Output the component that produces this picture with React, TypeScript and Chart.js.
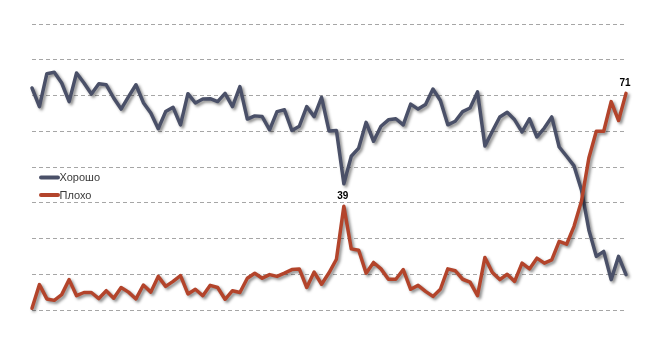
import React, { useEffect, useRef } from "react";
import { Chart, registerables } from "chart.js";

Chart.register(...registerables);

const seriesNames = ["Хорошо", "Плохо"];

const goodValues = [
  72.1, 66.9, 76.1, 76.5, 73.5, 68.3, 76.3, 73.5, 70.4, 73.3,
  73.0, 69.3, 66.2, 69.7, 73.0, 68.0, 65.1, 60.7, 65.5, 66.7,
  61.8, 70.5, 67.9, 69.0, 69.1, 68.3, 70.6, 66.9, 72.5, 63.4,
  64.3, 64.1, 60.4, 65.5, 66.0, 60.2, 61.4, 66.9, 64.1, 69.5,
  60.1, 60.2, 45.3, 53.0, 55.3, 62.5, 57.2, 61.4, 63.2, 63.5,
  61.8, 67.6, 66.2, 67.5, 71.8, 68.6, 61.8, 62.8, 65.5, 66.5,
  71.0, 55.9, 60.0, 64.0, 65.3, 63.2, 59.8, 63.5, 58.4, 60.9,
  64.0, 55.6, 53.0, 50.3, 43.6, 32.4, 25.0, 26.4, 18.5, 25.0,
  19.9,
];

const badValues = [
  10.5, 17.1, 13.1, 12.7, 14.3, 18.5, 14.0, 14.9, 14.9, 13.2,
  15.4, 13.3, 16.3, 15.0, 13.1, 17.0, 15.0, 19.4, 16.6, 18.0,
  19.6, 14.5, 15.8, 14.0, 16.9, 16.3, 13.0, 15.4, 14.9, 18.9,
  20.3, 18.9, 19.9, 19.4, 20.3, 21.3, 21.5, 16.3, 20.6, 17.2,
  20.4, 24.2, 39.0, 27.1, 26.7, 20.3, 23.3, 21.5, 18.6, 18.6,
  21.3, 15.8, 16.9, 15.2, 13.8, 15.8, 21.5, 21.0, 18.6, 17.8,
  14.0, 24.7, 20.5, 18.5, 20.0, 18.0, 23.1, 21.5, 24.5, 23.1,
  24.0, 29.2, 28.4, 33.4, 40.4, 52.5, 60.0, 60.0, 68.3, 63.0,
  70.6,
];

// indices of the "Плохо" points that carry a value label
const labelledBadIndices = [42, 80];

const categories = goodValues.map((_, i) => String(i + 1));

const GOOD_COLOR = "#4a5068";
const BAD_COLOR = "#b3442b";

export default function App() {
  const ref = useRef<HTMLCanvasElement | null>(null);

  useEffect(() => {
    if (!ref.current) return;

    const shadowPlugin = {
      id: "lineShadow",
      beforeDatasetsDraw(chart: any) {
        const ctx = chart.ctx;
        ctx.save();
        ctx.shadowColor = "rgba(0,0,0,0.45)";
        ctx.shadowBlur = 3;
        ctx.shadowOffsetX = 2;
        ctx.shadowOffsetY = 2;
      },
      afterDatasetsDraw(chart: any) {
        chart.ctx.restore();
      },
    };

    const labelsPlugin = {
      id: "valueLabelsAndLegend",
      afterDraw(chart: any) {
        const ctx = chart.ctx;
        ctx.save();
        const meta = chart.getDatasetMeta(1);
        ctx.font = "bold 10px 'Liberation Sans', Arial, sans-serif";
        ctx.fillStyle = "#000";
        ctx.textAlign = "center";
        ctx.textBaseline = "bottom";
        labelledBadIndices.forEach((i) => {
          const pt = meta.data[i];
          if (!pt) return;
          ctx.fillText(String(Math.round(badValues[i])), pt.x - 1, pt.y - 5);
        });
        const items = [
          { name: seriesNames[0], color: GOOD_COLOR, y: 177.5 },
          { name: seriesNames[1], color: BAD_COLOR, y: 195 },
        ];
        ctx.font = "11px 'Liberation Sans', Arial, sans-serif";
        ctx.textAlign = "left";
        ctx.textBaseline = "middle";
        items.forEach((it) => {
          ctx.beginPath();
          ctx.strokeStyle = it.color;
          ctx.lineWidth = 4;
          ctx.lineCap = "round";
          ctx.moveTo(41, it.y);
          ctx.lineTo(58, it.y);
          ctx.stroke();
          ctx.fillStyle = "#3a3a3a";
          ctx.fillText(it.name, 59.5, it.y + 0.5);
        });
        ctx.restore();
      },
    };

    const chart = new Chart(ref.current, {
      type: "line",
      data: {
        labels: categories,
        datasets: [
          {
            label: seriesNames[0],
            data: goodValues,
            borderColor: GOOD_COLOR,
            backgroundColor: GOOD_COLOR,
            borderWidth: 3.5,
            pointRadius: 0,
            tension: 0,
            borderJoinStyle: "round",
            borderCapStyle: "round",
            clip: false,
            order: 2,
          },
          {
            label: seriesNames[1],
            data: badValues,
            borderColor: BAD_COLOR,
            backgroundColor: BAD_COLOR,
            borderWidth: 3.5,
            pointRadius: 0,
            tension: 0,
            borderJoinStyle: "round",
            borderCapStyle: "round",
            clip: false,
            order: 1,
          },
        ],
      },
      options: {
        responsive: false,
        animation: false,
        layout: { padding: { left: 32, right: 39, top: 24, bottom: 45 } },
        plugins: {
          legend: { display: false },
          tooltip: { enabled: false },
        },
        scales: {
          x: {
            display: false,
            offset: false,
          },
          y: {
            min: 10,
            max: 90,
            ticks: { display: false, stepSize: 10 },
            border: { display: false, dash: [4, 3] },
            grid: {
              drawTicks: false,
              color: "#a6a6a6",
              lineWidth: 1,
            },
          },
        },
      },
      plugins: [shadowPlugin, labelsPlugin],
    });

    return () => chart.destroy();
  }, []);

  return (
    <div style={{ position: "fixed", left: 0, top: 0, width: 665, height: 355, background: "#fff" }}>
      <canvas ref={ref} width={665} height={355} style={{ display: "block" }} />
    </div>
  );
}
